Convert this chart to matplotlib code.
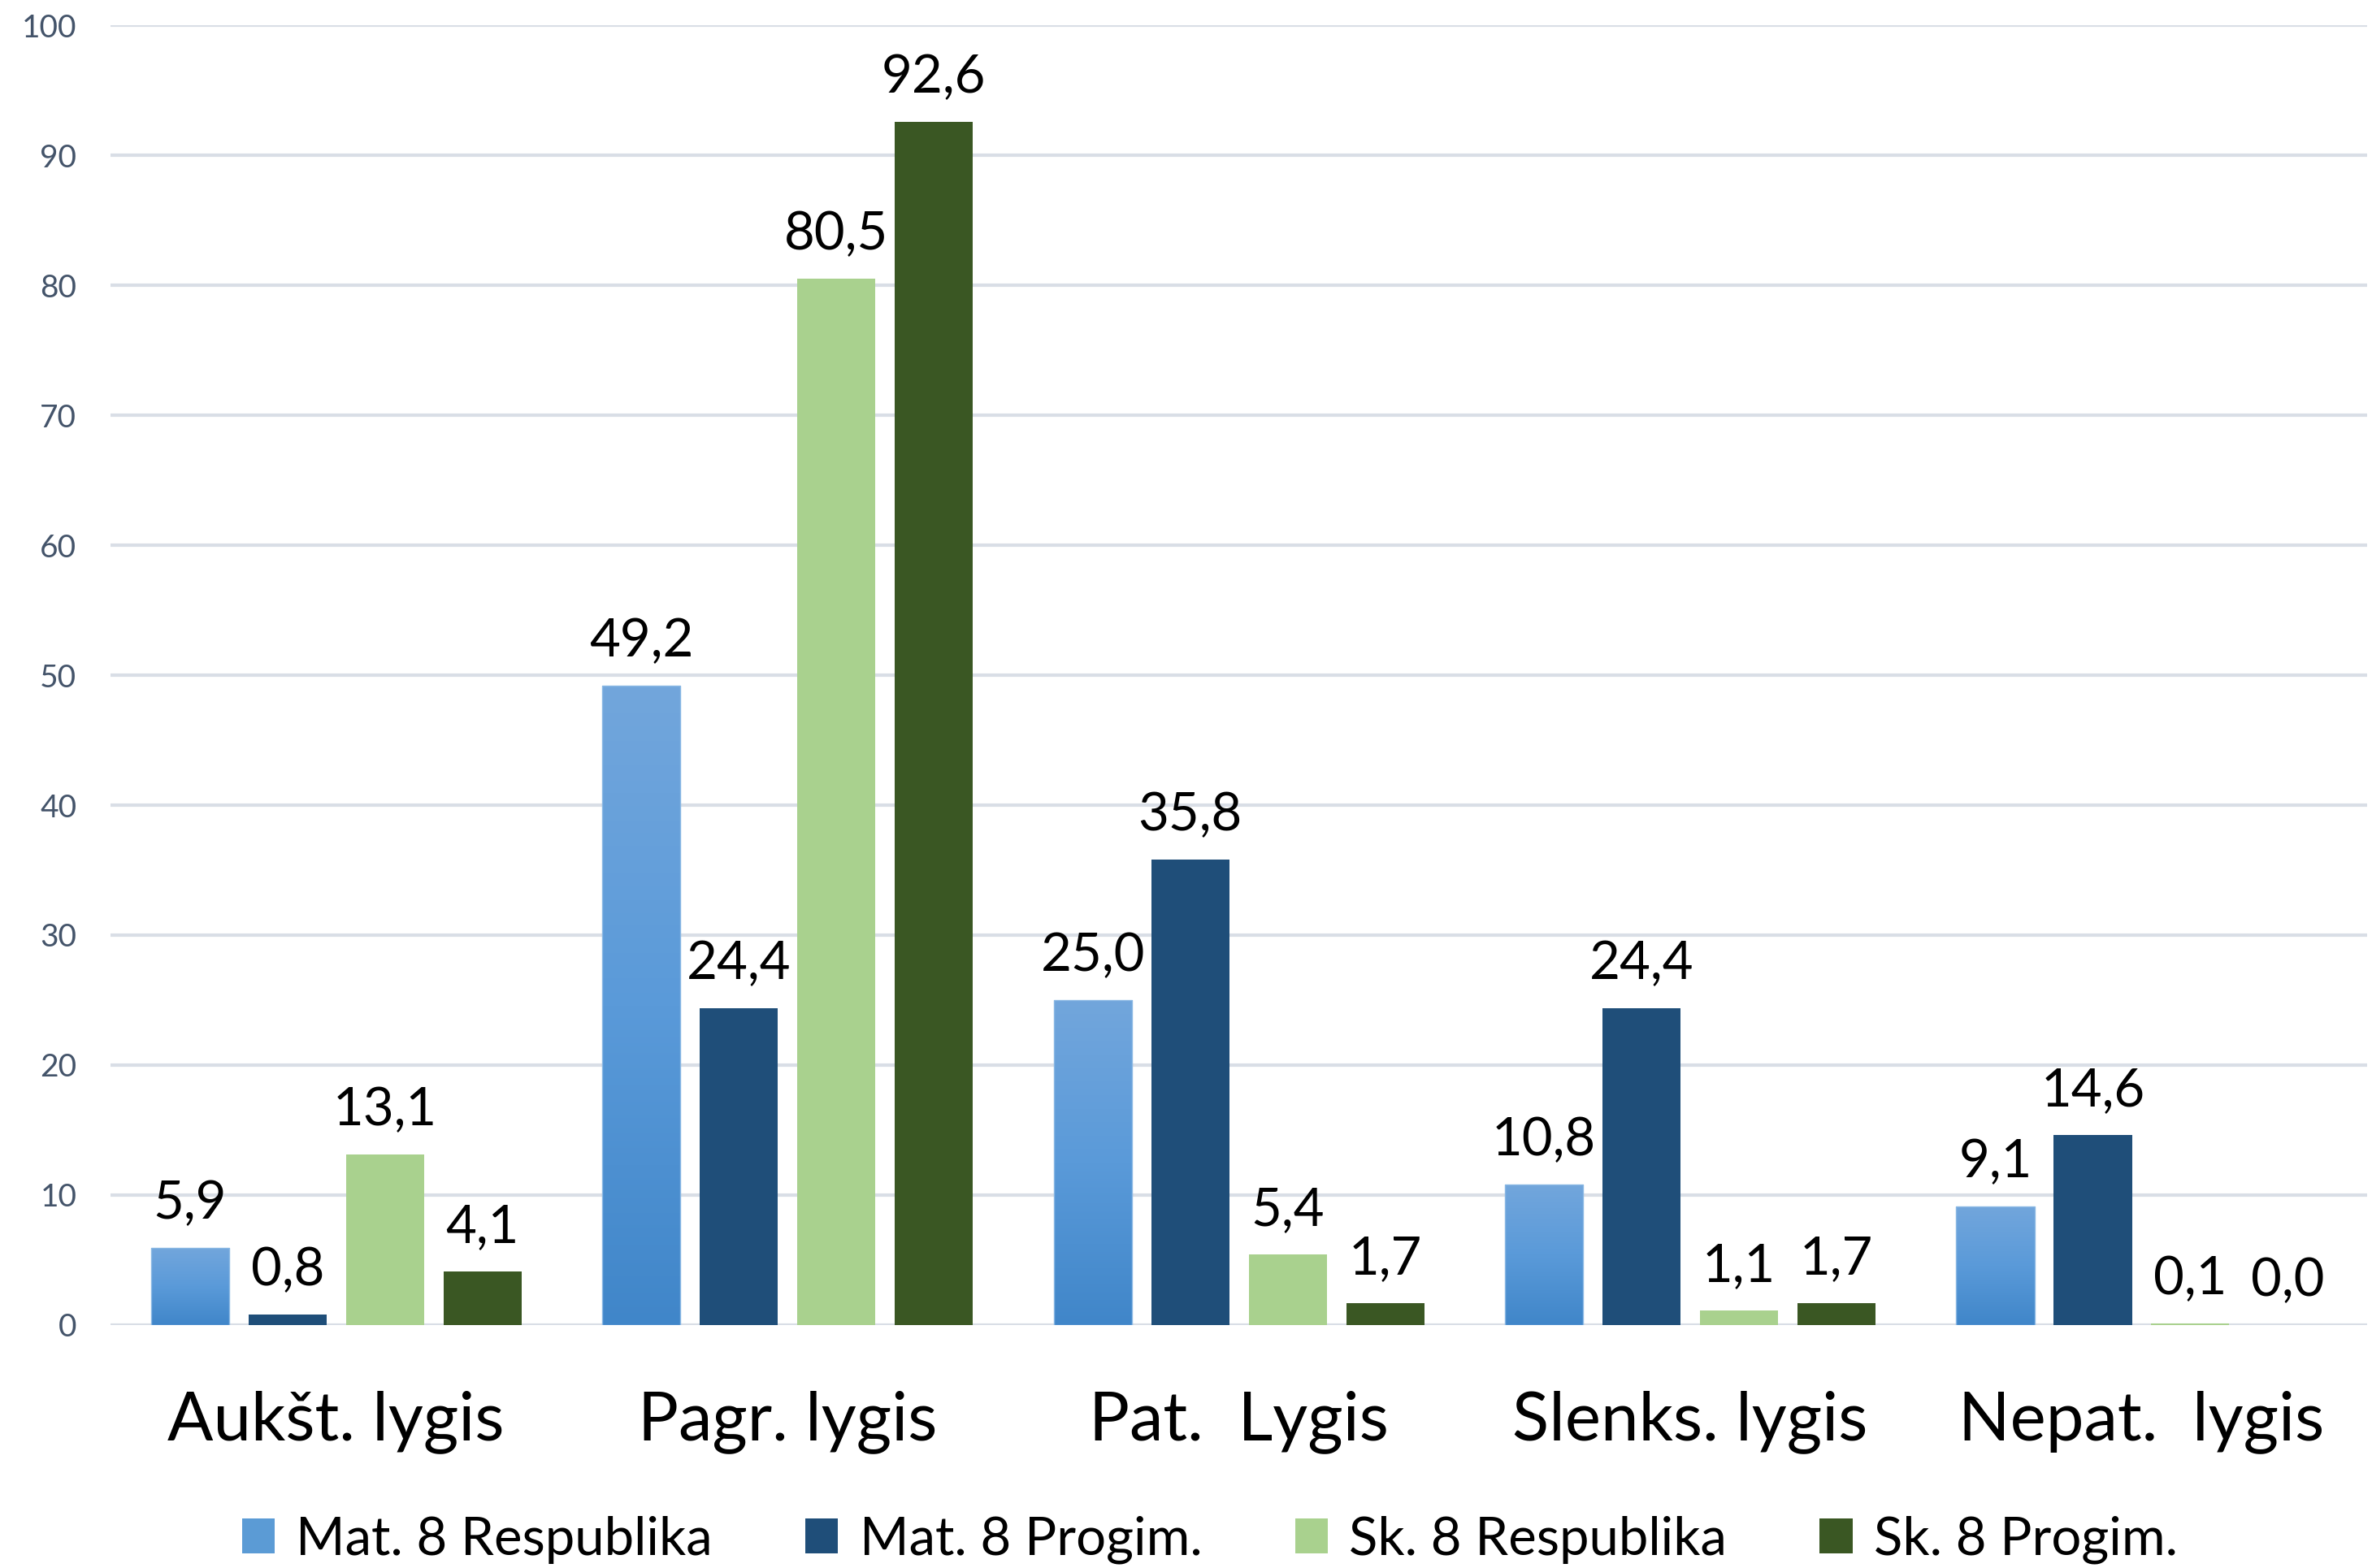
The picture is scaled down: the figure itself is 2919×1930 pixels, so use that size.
import numpy as np
import matplotlib
matplotlib.use('Agg')
import matplotlib.pyplot as plt
from matplotlib.colors import LinearSegmentedColormap
from matplotlib.patches import Patch

plt.rcParams['font.family'] = ['Lato', 'DejaVu Sans']

categories = ['Aukšt. lygis', 'Pagr. lygis', 'Pat.  Lygis', 'Slenks. lygis', 'Nepat.  lygis']
series_names = ['Mat. 8 Respublika', 'Mat. 8 Progim.', 'Sk. 8 Respublika', 'Sk. 8 Progim.']
mat_resp = [5.9, 49.2, 25.0, 10.8, 9.1]
mat_prog = [0.8, 24.4, 35.8, 24.4, 14.6]
sk_resp = [13.1, 80.5, 5.4, 1.1, 0.1]
sk_prog = [4.1, 92.6, 1.7, 1.7, 0.0]
yticks = [0, 10, 20, 30, 40, 50, 60, 70, 80, 90, 100]

colors = ['#5b9bd5', '#1f4e79', '#a9d18e', '#3a5723']
blue_grad = LinearSegmentedColormap.from_list('bg', ['#4086c9', '#5a9ad9', '#72a6dc'])

fig = plt.figure(figsize=(29.19, 19.30), dpi=100)
ax = fig.add_axes([0.0466, 0.155, 0.9514, 0.8288])

x = np.arange(len(categories))
width = 0.173
pitch = 0.216
offsets = (np.arange(4) - 1.5) * pitch
data = [mat_resp, mat_prog, sk_resp, sk_prog]

grad = np.linspace(0, 1, 256).reshape(-1, 1)
for i, vals in enumerate(data):
    bars = ax.bar(x + offsets[i], vals, width, color=colors[i], zorder=3)
    if i == 0:
        # gradient fill for the first series
        for b in bars:
            b.set_facecolor('none')
            b.set_edgecolor('#8ab8e4')
            b.set_linewidth(1)
            ax.imshow(grad, extent=[b.get_x(), b.get_x() + b.get_width(), 0, b.get_height()],
                      origin='lower', aspect='auto', cmap=blue_grad, zorder=2.9)
    for xi, v in zip(x + offsets[i], vals):
        ax.annotate(('%.1f' % v).replace('.', ','), (xi, v), xytext=(0, 18),
                    textcoords='offset points', ha='center', va='bottom',
                    fontsize=47, color='#000000', zorder=4)

ax.set_xlim(-0.5, len(categories) - 0.5)
ax.set_ylim(0, 100)
ax.set_yticks(yticks)
ax.set_xticks(x)
ax.set_xticklabels(categories, fontsize=60)
ax.tick_params(axis='x', length=0, pad=58, colors='#000000')
ax.tick_params(axis='y', length=0, pad=30, labelsize=28, colors='#44546a')
for s in ax.spines.values():
    s.set_visible(False)
ax.grid(axis='y', color='#d9dee6', linewidth=3, zorder=0)

handles = [Patch(facecolor=c) for c in colors]
fig.legend(handles, series_names, loc='center', bbox_to_anchor=(0.51, 0.018), ncol=4,
           frameon=False, fontsize=47, handlelength=0.62, handleheight=0.62,
           handletextpad=0.4, columnspacing=1.75)

fig.savefig('out.png', dpi=100)
